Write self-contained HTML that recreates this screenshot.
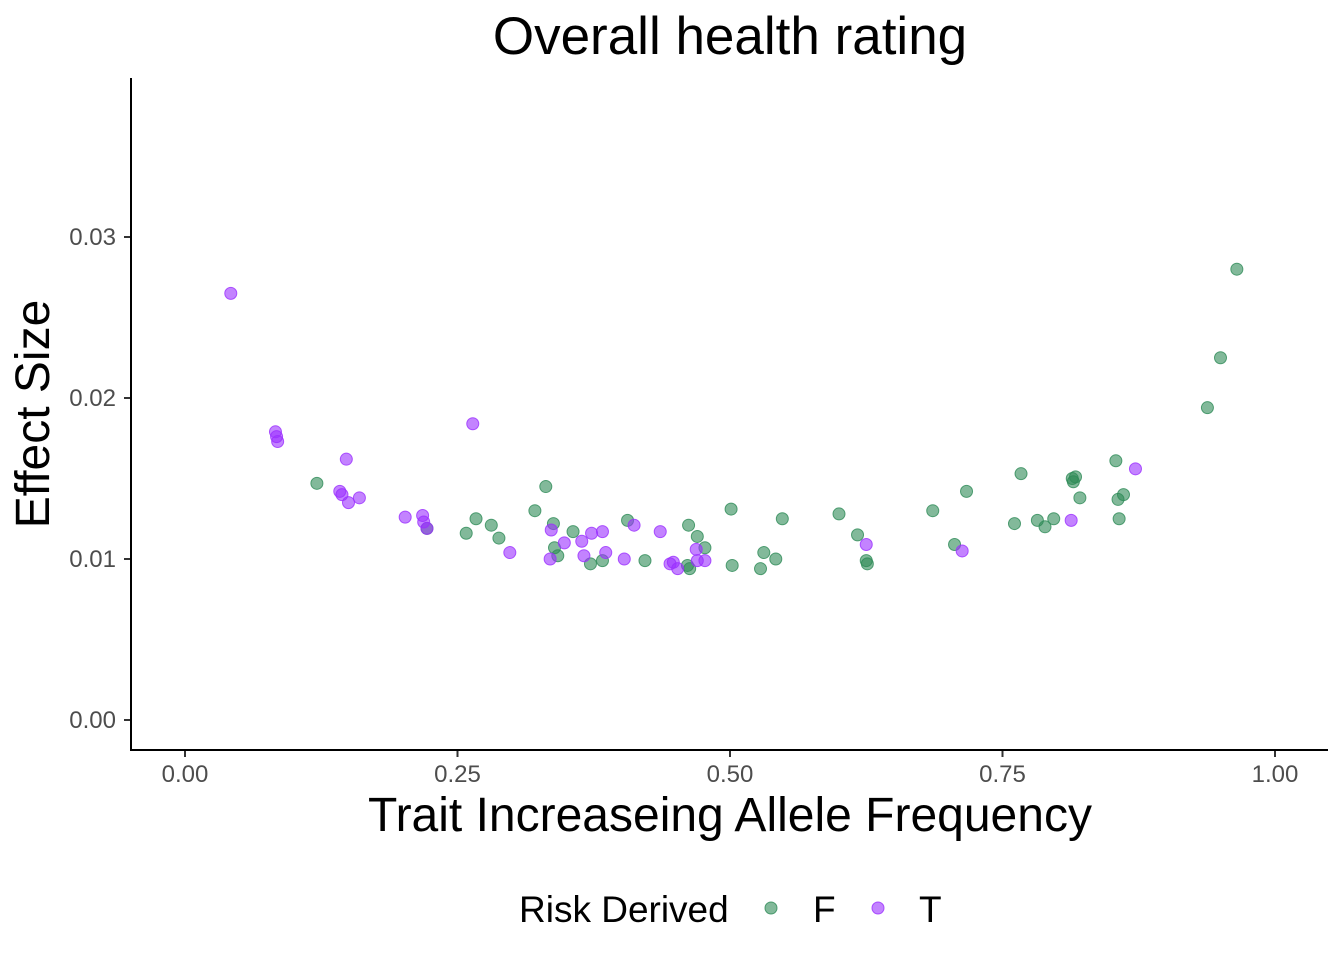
<!DOCTYPE html>
<html><head><meta charset="utf-8"><style>
body{margin:0;background:#fff;}
svg text{font-family:"Liberation Sans",Arial,sans-serif;}
</style></head><body>
<svg id="chart" width="1344" height="960">
<rect width="1344" height="960" fill="#fff"/>
<text x="730" y="54" font-size="53" text-anchor="middle" fill="#000">Overall health rating</text>
<g id="axes"></g>
<g id="points"></g>
<text x="730" y="831" font-size="48" text-anchor="middle" fill="#000">Trait Increaseing Allele Frequency</text>
<text transform="translate(49,414) rotate(-90)" font-size="48" text-anchor="middle" fill="#000">Effect Size</text>
<g>
<text x="519" y="922" font-size="37" fill="#000">Risk Derived</text>
<circle cx="771" cy="908" r="6" fill="rgba(46,139,87,0.6)" stroke="rgba(46,139,87,0.8)"/>
<text x="813" y="922" font-size="37" fill="#000">F</text>
<circle cx="878" cy="908" r="6" fill="rgba(155,48,255,0.6)" stroke="rgba(155,48,255,0.8)"/>
<text x="919" y="922" font-size="37" fill="#000">T</text>
</g>
</svg>
<script>
const xTicks=[0,0.25,0.5,0.75,1];
const xTickLabels=["0.00","0.25","0.50","0.75","1.00"];
const yTicks=[0,0.01,0.02,0.03];
const yTickLabels=["0.00","0.01","0.02","0.03"];
const tX=[0.042,0.083,0.085,0.084,0.148,0.142,0.144,0.150,0.160,0.202,0.218,0.219,0.264,0.298,0.336,0.335,0.348,0.364,0.366,0.373,0.383,0.386,0.412,0.403,0.436,0.445,0.448,0.452,0.469,0.470,0.477,0.625,0.713,0.813,0.872,0.222];
const tY=[0.0265,0.0179,0.0173,0.0176,0.0162,0.0142,0.0140,0.0135,0.0138,0.0126,0.0127,0.0123,0.0184,0.0104,0.0118,0.0100,0.0110,0.0111,0.0102,0.0116,0.0117,0.0104,0.0121,0.0100,0.0117,0.0097,0.0098,0.0094,0.0106,0.0099,0.0099,0.0109,0.0105,0.0124,0.0156,0.0119];
const fX=[0.121,0.258,0.267,0.281,0.288,0.321,0.331,0.338,0.339,0.342,0.356,0.372,0.383,0.406,0.422,0.462,0.470,0.477,0.461,0.463,0.501,0.502,0.528,0.531,0.542,0.548,0.600,0.617,0.625,0.626,0.686,0.706,0.717,0.761,0.767,0.782,0.789,0.797,0.814,0.817,0.815,0.821,0.854,0.856,0.857,0.861,0.938,0.950,0.965,0.222];
const fY=[0.0147,0.0116,0.0125,0.0121,0.0113,0.0130,0.0145,0.0122,0.0107,0.0102,0.0117,0.0097,0.0099,0.0124,0.0099,0.0121,0.0114,0.0107,0.0096,0.0094,0.0131,0.0096,0.0094,0.0104,0.0100,0.0125,0.0128,0.0115,0.0099,0.0097,0.0130,0.0109,0.0142,0.0122,0.0153,0.0124,0.0120,0.0125,0.0150,0.0151,0.0148,0.0138,0.0161,0.0137,0.0125,0.0140,0.0194,0.0225,0.0280,0.0119];
const NS="http://www.w3.org/2000/svg";
const xs=v=>185+v*1090;
const ys=v=>720-v*16100;
const axes=document.getElementById('axes');
function mk(tag,attrs,parent){const e=document.createElementNS(NS,tag);for(const k in attrs)e.setAttribute(k,attrs[k]);parent.appendChild(e);return e;}
let l=mk('line',{x1:131,y1:78,x2:131,y2:751,stroke:'#000','stroke-width':2},axes);


l=mk('line',{x1:130,y1:750,x2:1328,y2:750,stroke:'#000','stroke-width':2},axes);


xTicks.forEach((v,i)=>{
 const t=mk('line',{x1:xs(v),y1:751,x2:xs(v),y2:757,stroke:'#333','stroke-width':2},axes);
 
 
 const tx=mk('text',{x:xs(v),y:782,'font-size':24,'text-anchor':'middle',fill:'#4d4d4d'},axes);
 tx.textContent=xTickLabels[i];
 
 
});
yTicks.forEach((v,i)=>{
 const t=mk('line',{x1:124,y1:ys(v),x2:130,y2:ys(v),stroke:'#333','stroke-width':2},axes);
 
 
 const tx=mk('text',{x:116,y:ys(v)+8,'font-size':24,'text-anchor':'end',fill:'#4d4d4d'},axes);
 tx.textContent=yTickLabels[i];
 
 
});
const pts=document.getElementById('points');
fX.forEach((v,i)=>{
 const c=mk('circle',{cx:xs(v),cy:ys(fY[i]),r:6,fill:'rgba(46,139,87,0.6)',stroke:'rgba(46,139,87,0.8)','stroke-width':1},pts);
 
 
});
tX.forEach((v,i)=>{
 const c=mk('circle',{cx:xs(v),cy:ys(tY[i]),r:6,fill:'rgba(155,48,255,0.6)',stroke:'rgba(155,48,255,0.8)','stroke-width':1},pts);
 
 
});
</script>
</body></html>
